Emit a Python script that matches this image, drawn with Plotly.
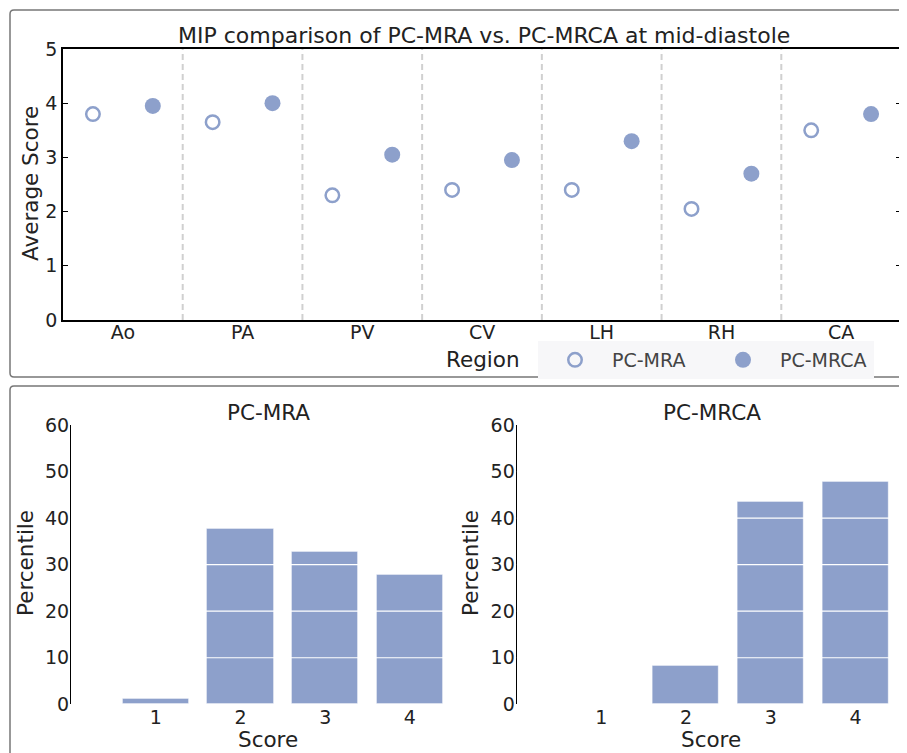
import plotly.graph_objects as go
import numpy as np

# page has an 8px body margin: work in screenshot pixels and convert
OFF = 8
W, H = 899, 745

regions = ["Ao", "PA", "PV", "CV", "LH", "RH", "CA"]
mra_avg = [3.80, 3.65, 2.30, 2.40, 2.40, 2.05, 3.50]
mrca_avg = [3.95, 4.00, 3.05, 2.95, 3.30, 2.70, 3.80]

scores = [1, 2, 3, 4]
mra_pct = [1.1, 37.7, 32.7, 27.7]
mrca_pct = [0.0, 8.2, 43.4, 47.8]

COLOR = "#8da0cb"
FONT = "DejaVu Sans"
TXT = "#222222"


def px(x):
    return (x - OFF) / W


def py(y):
    return 1 - (y - OFF) / H


fig = go.Figure()

centers = np.arange(len(regions))
fig.add_trace(go.Scatter(
    x=centers - 0.25, y=mra_avg, mode="markers", name="PC-MRA",
    marker=dict(symbol="circle-open", size=13.5, color=COLOR, line=dict(width=2.5, color=COLOR)),
    xaxis="x", yaxis="y", showlegend=True))
fig.add_trace(go.Scatter(
    x=centers + 0.25, y=mrca_avg, mode="markers", name="PC-MRCA",
    marker=dict(symbol="circle", size=16, color=COLOR),
    xaxis="x", yaxis="y", showlegend=True))

fig.add_trace(go.Bar(x=scores, y=mra_pct, width=0.78,
                     marker=dict(color=COLOR, line=dict(width=1, color="rgba(255,255,255,0.35)")),
                     xaxis="x2", yaxis="y2", showlegend=False))
fig.add_trace(go.Bar(x=scores, y=mrca_pct, width=0.78,
                     marker=dict(color=COLOR, line=dict(width=1, color="rgba(255,255,255,0.35)")),
                     xaxis="x3", yaxis="y3", showlegend=False))

shapes = []
# region dividers
for i in range(len(regions) - 1):
    shapes.append(dict(type="line", xref="x", yref="y domain", x0=i + 0.5, x1=i + 0.5, y0=0, y1=1,
                       line=dict(color="#d0d0d0", width=2, dash="6px,4px"), layer="below"))
# white gridlines above bars
for ax_x, ax_y, xr in (("x2", "y2", 4.65), ("x3", "y3", 4.6)):
    for g in [10, 20, 30, 40, 50]:
        shapes.append(dict(type="line", xref=ax_x, yref=ax_y, x0=0, x1=xr, y0=g, y1=g,
                           line=dict(color="white", width=1.2), layer="above"))


def rounded_rect(x0, y0, x1, y1, r=4):
    X0, X1 = px(x0), px(x1)
    Y0, Y1 = py(y0), py(y1)
    rx, ry = r / W, r / H
    return (f"M {X0+rx},{Y0} L {X1-rx},{Y0} Q {X1},{Y0} {X1},{Y0-ry} L {X1},{Y1+ry} "
            f"Q {X1},{Y1} {X1-rx},{Y1} L {X0+rx},{Y1} Q {X0},{Y1} {X0},{Y1+ry} "
            f"L {X0},{Y0-ry} Q {X0},{Y0} {X0+rx},{Y0} Z")


shapes.append(dict(type="path", xref="paper", yref="paper", path=rounded_rect(10, 10, 925, 377),
                   line=dict(color="#777777", width=1.5), layer="below"))
shapes.append(dict(type="path", xref="paper", yref="paper", path=rounded_rect(10, 386, 925, 775),
                   line=dict(color="#777777", width=1.5), layer="below"))

annotations = [
    dict(text="MIP comparison of PC-MRA vs. PC-MRCA at mid-diastole", x=px(484), y=py(36),
         xref="paper", yref="paper", showarrow=False, xanchor="center", yanchor="middle",
         font=dict(size=22, color=TXT, family=FONT)),
    dict(text="Average Score", x=px(31), y=py(184), xref="paper", yref="paper", showarrow=False,
         textangle=-90, xanchor="center", yanchor="middle", font=dict(size=21.5, color=TXT, family=FONT)),
    dict(text="Region", x=px(483), y=py(360), xref="paper", yref="paper", showarrow=False,
         xanchor="center", yanchor="middle", font=dict(size=21.5, color=TXT, family=FONT)),
    dict(text="PC-MRA", x=px(268), y=py(412), xref="paper", yref="paper", showarrow=False,
         xanchor="center", yanchor="middle", font=dict(size=21.5, color=TXT, family=FONT)),
    dict(text="PC-MRCA", x=px(712), y=py(412), xref="paper", yref="paper", showarrow=False,
         xanchor="center", yanchor="middle", font=dict(size=21.5, color=TXT, family=FONT)),
    dict(text="Percentile", x=px(25), y=py(563), xref="paper", yref="paper", showarrow=False,
         textangle=-90, xanchor="center", yanchor="middle", font=dict(size=21.5, color=TXT, family=FONT)),
    dict(text="Percentile", x=px(470), y=py(563), xref="paper", yref="paper", showarrow=False,
         textangle=-90, xanchor="center", yanchor="middle", font=dict(size=21.5, color=TXT, family=FONT)),
    dict(text="Score", x=px(268), y=py(739), xref="paper", yref="paper", showarrow=False,
         xanchor="center", yanchor="middle", font=dict(size=21.5, color=TXT, family=FONT)),
    dict(text="Score", x=px(711), y=py(739), xref="paper", yref="paper", showarrow=False,
         xanchor="center", yanchor="middle", font=dict(size=21.5, color=TXT, family=FONT)),
]

tickfont = dict(size=19, color=TXT, family=FONT)

fig.update_layout(
    width=W, height=H,
    margin=dict(l=0, r=0, t=0, b=0, autoexpand=False),
    paper_bgcolor="white", plot_bgcolor="white",
    font=dict(family=FONT, color=TXT),
    xaxis=dict(domain=[px(63), px(901)], range=[-0.5, len(regions) - 0.5],
               tickvals=list(centers), ticktext=regions, showgrid=False, zeroline=False,
               showline=True, linecolor="black", linewidth=1.5, mirror=True, ticks="",
               ticklabelstandoff=-6, tickfont=tickfont, anchor="y"),
    yaxis=dict(domain=[py(320), py(49)], range=[0, 5], tickvals=[0, 1, 2, 3, 4, 5],
               showgrid=False, zeroline=False, showline=True, linecolor="black", linewidth=1.5,
               mirror="ticks", ticks="inside", ticklen=5, tickcolor="black", tickfont=tickfont,
               anchor="x"),
    xaxis2=dict(domain=[px(71), px(465)], range=[0, 4.65], tickvals=scores, showgrid=False,
                zeroline=False, showline=False, ticks="", tickfont=tickfont, anchor="y2"),
    yaxis2=dict(domain=[py(704.3), py(425)], range=[0, 60], tickvals=[0, 10, 20, 30, 40, 50, 60],
                showgrid=False, zeroline=False, showline=True, linecolor="black", linewidth=1.2,
                ticks="", ticklabelstandoff=-3, tickfont=tickfont, anchor="x2"),
    xaxis3=dict(domain=[px(516.7), 1.0], range=[0, (W + OFF - 516.7) / 84.7], tickvals=scores,
                showgrid=False, zeroline=False, showline=False, ticks="", tickfont=tickfont,
                anchor="y3"),
    yaxis3=dict(domain=[py(704.3), py(425)], range=[0, 60], tickvals=[0, 10, 20, 30, 40, 50, 60],
                showgrid=False, zeroline=False, showline=True, linecolor="black", linewidth=1.2,
                ticks="", ticklabelstandoff=-3, tickfont=tickfont, anchor="x3"),
    legend=dict(orientation="h", x=px(538), y=py(341), xanchor="left", yanchor="top",
                bgcolor="#f7f7f9", font=dict(size=19, color="#444444", family=FONT),
                itemwidth=64, entrywidth=89, entrywidthmode="pixels", borderwidth=0),
    shapes=shapes,
    annotations=annotations,
    bargap=0,
)

fig.write_html("out.html")
